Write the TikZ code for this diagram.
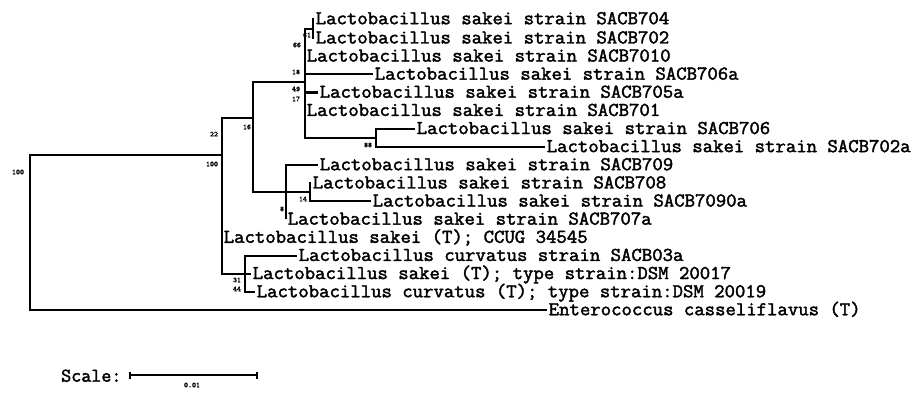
\documentclass[tikz,border=0pt]{standalone}
\usepackage{fontspec}
\newfontfamily\cfont{Latin Modern Mono}[FakeBold=2]
\tikzset{
  leaf/.style={anchor=west, inner xsep=1.5pt, inner ysep=0pt,
    font=\cfont\fontsize{19.6}{22}\selectfont, xscale=1.03, transform shape,
    text height=10.5pt, text depth=0pt},
  boot/.style={font=\cfont\fontsize{7.5}{8}\selectfont, inner sep=0pt},
  branch/.style={line width=2.1pt},
}
\begin{document}
\begin{tikzpicture}[x=1pt,y=-1pt]
\useasboundingbox (0,0) rectangle (921,393);
% internal nodes (x of vertical, y of attachment)
\coordinate (R) at (30,232);
\coordinate (C) at (222,155);
\coordinate (D) at (253,118);
\coordinate (F) at (305,82);
\coordinate (A) at (313,28.6);
\coordinate (B) at (376,137.8);
\coordinate (G) at (286,192.2);
\coordinate (H) at (310,192.2);
\coordinate (E) at (245,273.8);
% leaves
\node[leaf] (t1)  at (314,19)    {Lactobacillus sakei strain SACB704};
\node[leaf] (t2)  at (314,38.2)  {Lactobacillus sakei strain SACB702};
\node[leaf] (t3)  at (305,56.3)  {Lactobacillus sakei strain SACB7010};
\node[leaf] (t4)  at (373,74.4)  {Lactobacillus sakei strain SACB706a};
\node[leaf] (t5)  at (318,92.5)  {Lactobacillus sakei strain SACB705a};
\node[leaf] (t6)  at (305,110.7) {Lactobacillus sakei strain SACB701};
\node[leaf] (t7)  at (415,128.8) {Lactobacillus sakei strain SACB706};
\node[leaf] (t8)  at (545,146.9) {Lactobacillus sakei strain SACB702a};
\node[leaf] (t9)  at (318,165)   {Lactobacillus sakei strain SACB709};
\node[leaf] (t10) at (311,183.2) {Lactobacillus sakei strain SACB708};
\node[leaf] (t11) at (371,201.3) {Lactobacillus sakei strain SACB7090a};
\node[leaf] (t12) at (286,219.4) {Lactobacillus sakei strain SACB707a};
\node[leaf] (t13) at (222,237.6) {Lactobacillus sakei (T); CCUG 34545};
\node[leaf] (t14) at (297,255.7) {Lactobacillus curvatus strain SACB03a};
\node[leaf] (t15) at (251,273.8) {Lactobacillus sakei (T); type strain:DSM 20017};
\node[leaf] (t16) at (255,292)   {Lactobacillus curvatus (T); type strain:DSM 20019};
\node[leaf] (t17) at (547,310)   {Enterococcus casseliflavus (T)};
% branches
\draw[branch] (R) |- (C);
\draw[branch] (R) |- (t17.west);
\draw[branch] (C) |- (D);
\draw[branch] (C) |- (t13.west);
\draw[branch] (C) |- (E);
\draw[branch] (D) |- (F);
\draw[branch] (D) |- (G);
\draw[branch] (F) |- (A);
\draw[branch] (F) |- (t3.west);
\draw[branch] (F) |- (t4.west);
\draw[branch] (F) |- (t5.west);
\draw[branch] (F) |- (t6.west);
\draw[branch] (F) |- (B);
\draw[branch] (A) |- (t1.west);
\draw[branch] (A) |- (t2.west);
\draw[branch] (B) |- (t7.west);
\draw[branch] (B) |- (t8.west);
\draw[branch] (G) |- (t9.west);
\draw[branch] (G) |- (H);
\draw[branch] (G) |- (t12.west);
\draw[branch] (H) |- (t10.west);
\draw[branch] (H) |- (t11.west);
\draw[branch] (E) |- (t14.west);
\draw[branch] (E) |- (t15.west);
\draw[branch] (E) |- (t16.west);
% bootstrap values
\node[boot] (b1)  at (18,172)  {100};
\node[boot] (b2)  at (212,164) {100};
\node[boot] (b3)  at (214,134) {22};
\node[boot] (b4)  at (247,127) {16};
\node[boot] (b5)  at (297,45)  {66};
\node[boot] (b6)  at (307,35)  {61};
\node[boot] (b7)  at (296,72)  {18};
\node[boot] (b8)  at (296,89)  {49};
\node[boot] (b9)  at (296,99)  {17};
\node[boot] (b10) at (368,145) {88};
\node[boot] (b11) at (303,199) {14};
\node[boot] (b12) at (282,209) {8};
\node[boot] (b13) at (237,280) {31};
\node[boot] (b14) at (237,289) {44};
% scale
\node[anchor=base west, inner sep=0pt, font=\cfont\fontsize{19.5}{22}\selectfont] (scl) at (61,381.7) {Scale:};
\coordinate (s1) at (130,375);
\coordinate (s2) at (257,375);
\draw[branch] (s1) -- (s2);
\draw[branch] ([yshift=-3.5pt]s1) -- ([yshift=3.5pt]s1);
\draw[branch] ([yshift=-3.5pt]s2) -- ([yshift=3.5pt]s2);
\node[boot] (sv) at (192,385) {0.01};
\end{tikzpicture}
\end{document}
